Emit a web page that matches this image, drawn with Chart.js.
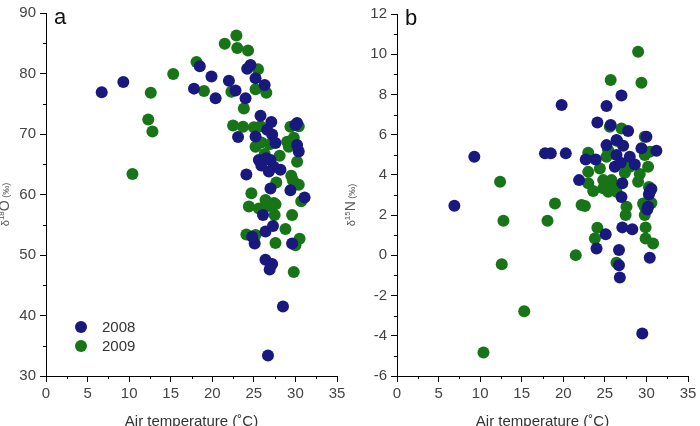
<!DOCTYPE html>
<html lang="en">
<head>
<meta charset="UTF-8">
<title>Air temperature vs isotopes</title>
<script src="https://cdn.jsdelivr.net/npm/chart.js"></script>
<style>
    html, body { margin: 0; padding: 0; background: #fff; overflow: hidden; width: 700px; height: 426px; }
    .panel { position: absolute; top: 0; height: 432px; }
    #panelA { left: 0; width: 350px; }
    #panelB { left: 340px; width: 360px; }
</style>
</head>
<body>
<div class="panel" id="panelA"><canvas id="chartA" width="350" height="432"></canvas></div>
<div class="panel" id="panelB"><canvas id="chartB" width="360" height="432"></canvas></div>

<script>
    const years = ['2008', '2009'];
    const colors = ['#18187e', '#177417'];

    // panel a: air temperature vs d18O
    const tempA2008 = [6.7, 9.3, 17.8, 18.5, 19.9, 20.4, 22.0, 22.8, 24.0, 24.2, 24.6, 25.2, 26.3,
        23.1, 25.2, 25.8, 27.1, 26.6, 27.2, 25.6, 27.0, 27.4, 28.2, 26.8, 24.1, 30.0, 30.4, 30.2,
        27.0, 29.4, 31.1, 26.1, 26.4, 27.3, 25.1, 24.8, 26.4, 27.2, 26.9, 29.6, 28.5, 26.7,
        26.5, 25.9, 27.6, 30.2];
    const o18A2008 = [76.9, 78.6, 77.5, 81.2, 79.5, 75.9, 78.8, 77.2, 75.9, 80.8, 81.4, 79.2, 78.1,
        69.5, 69.6, 73.0, 72.0, 70.7, 69.9, 65.7, 65.7, 64.6, 64.1, 63.8, 63.3, 71.5, 67.1, 68.2,
        61.0, 60.7, 59.5, 56.6, 53.9, 54.8, 51.9, 53.0, 49.2, 48.5, 47.6, 51.9, 41.5, 33.4,
        66.0, 64.8, 68.5, 71.8];
    const tempA2009 = [10.4, 12.3, 12.8, 12.6, 15.3, 18.1, 19.0, 21.5, 22.9, 23.0, 24.3, 22.3, 25.5,
        25.2, 26.5, 23.8, 22.5, 23.7, 25.0, 25.8, 25.2, 25.9, 26.9, 26.3, 28.1, 29.4, 30.4, 29.0,
        29.2, 29.8, 30.2, 29.5, 29.7, 30.4, 27.7, 24.7, 30.7, 25.6, 26.4, 27.4, 27.5, 29.6,
        24.1, 25.2, 27.6, 28.8, 30.5, 30.0, 29.8, 26.8, 24.4, 27.6];
    const o18A2009 = [63.4, 72.4, 70.4, 76.8, 79.9, 81.9, 77.1, 84.9, 86.3, 84.2, 83.8, 77.0, 80.7,
        77.4, 76.8, 74.2, 71.4, 71.2, 71.1, 71.3, 67.9, 68.6, 68.3, 66.7, 66.4, 71.2, 71.3, 68.7,
        67.9, 69.4, 65.4, 63.1, 62.3, 61.6, 62.0, 60.2, 58.9, 57.7, 59.1, 58.6, 56.6, 56.6,
        53.4, 53.3, 52.0, 54.3, 52.7, 51.6, 47.2, 58.1, 58.0, 58.4];

    // panel b: air temperature vs d15N
    const tempB2008 = [6.9, 9.3, 19.8, 17.8, 18.5, 20.3, 24.1, 25.2, 27.0, 25.7, 27.8, 30.0, 25.2,
        26.4, 27.2, 29.4, 31.2, 22.7, 23.9, 26.4, 28.0, 28.6, 26.2, 21.9, 27.1, 27.0, 30.3, 30.6,
        25.1, 24.0, 27.1, 28.3, 26.7, 26.7, 26.8, 30.4, 29.5, 30.1, 26.9, 30.2, 30.4];
    const n15B2008 = [2.46, 4.9, 7.47, 5.07, 5.07, 5.07, 6.6, 7.42, 7.95, 6.48, 6.18, 5.9, 5.48,
        5.73, 5.45, 5.32, 5.2, 4.77, 4.77, 4.99, 4.9, 4.52, 4.4, 3.74, 3.58, 2.9, 3.03, 3.3,
        1.05, 0.34, 1.39, 1.3, 0.26, -0.49, -1.1, -0.12, -3.89, 2.28, 4.6, 2.41, 3.16];
    const tempB2009 = [29.0, 29.4, 25.7, 25.6, 27.0, 26.5, 29.8, 23.0, 25.4, 25.2, 24.4, 23.0, 27.6,
        28.0, 27.4, 29.2, 29.0, 30.2, 29.8, 30.4, 23.0, 23.6, 24.8, 25.8, 24.8, 26.0, 25.4, 26.4,
        30.3, 12.4, 19.0, 22.2, 22.6, 27.6, 29.8, 30.6, 12.8, 12.6, 15.3, 10.4, 18.1, 21.5,
        24.1, 23.8, 26.4, 27.5, 29.8, 29.9, 29.9, 30.8, 29.6];
    const n15B2009 = [10.12, 8.58, 8.72, 6.39, 6.31, 5.68, 5.9, 5.1, 5.23, 4.9, 4.32, 4.15, 4.57,
        4.4, 4.1, 4.04, 3.66, 4.4, 4.99, 5.15, 3.58, 3.2, 3.74, 3.74, 3.33, 3.41, 3.16, 3.16,
        3.4, 3.66, 2.58, 2.5, 2.45, 2.41, 2.4, 2.6, 1.72, -0.44, -2.78, -4.83, 1.72, 0.01,
        1.37, 0.84, -0.37, 2.0, 2.0, 1.39, 0.84, 0.59, 2.58];

    const xTicks = [0, 5, 10, 15, 20, 25, 30, 35];
    const yTicksA = [30, 40, 50, 60, 70, 80, 90];
    const yTicksB = [-6, -4, -2, 0, 2, 4, 6, 8, 10, 12];

    // y titles in pieces: [text, font size, raised]
    const yTitleA = [['δ', 11, false], ['18', 8, true], ['O', 14, false], [' (‰)', 9, false]];
    const yTitleB = [['δ', 11, false], ['15', 8, true], ['N', 14, false], [' (‰)', 9, false]];

    const FONT = '"Liberation Sans", Arial, sans-serif';

    function points(xs, ys) {
        return xs.map((x, i) => ({ x: x, y: ys[i] }));
    }

    // minor ticks, y title, panel letter and the little legend
    const extras = {
        id: 'extras',
        afterDraw(chart, args, opts) {
            const ctx = chart.ctx;
            const xs = chart.scales.x, ys = chart.scales.y;
            const area = chart.chartArea;
            ctx.save();
            ctx.strokeStyle = '#000';
            ctx.lineWidth = 1;
            ctx.beginPath();
            for (let v = xs.min + opts.minorX; v < xs.max; v += opts.minorX * 2) {
                const px = Math.round(xs.getPixelForValue(v)) + 0.5;
                ctx.moveTo(px, area.bottom);
                ctx.lineTo(px, area.bottom + 3);
            }
            for (let v = ys.min + opts.minorY; v < ys.max; v += opts.minorY * 2) {
                const py = Math.round(ys.getPixelForValue(v)) + 0.5;
                ctx.moveTo(area.left, py);
                ctx.lineTo(area.left - 3, py);
            }
            ctx.stroke();

            // rotated y title
            let total = 0;
            opts.yTitle.forEach(p => {
                ctx.font = p[1] + 'px ' + FONT;
                total += ctx.measureText(p[0]).width;
            });
            ctx.save();
            ctx.translate(opts.titleX, (area.top + area.bottom) / 2 + 10);
            ctx.rotate(-Math.PI / 2);
            ctx.fillStyle = '#555';
            ctx.textBaseline = 'alphabetic';
            let cx = -total / 2;
            opts.yTitle.forEach(p => {
                ctx.font = p[1] + 'px ' + FONT;
                ctx.fillText(p[0], cx, p[2] ? 0 : 5);
                cx += ctx.measureText(p[0]).width;
            });
            ctx.restore();

            ctx.fillStyle = '#111';
            ctx.font = '22px ' + FONT;
            ctx.textBaseline = 'top';
            ctx.fillText(opts.letter, area.left + 8, area.top - 6);

            if (opts.legend) {
                ctx.font = '15px ' + FONT;
                ctx.textBaseline = 'middle';
                chart.data.datasets.forEach((ds, i) => {
                    const cy = area.bottom - 49 + i * 19;
                    ctx.fillStyle = ds.backgroundColor;
                    ctx.beginPath();
                    ctx.arc(area.left + 35, cy, 6, 0, Math.PI * 2);
                    ctx.fill();
                    ctx.fillStyle = '#333';
                    ctx.fillText(ds.label, area.left + 56, cy + 1);
                });
            }
            ctx.restore();
        }
    };

    function makeChart(id, sets, yTicks, yTitle, opts) {
        const yStep = yTicks[1] - yTicks[0];
        new Chart(document.getElementById(id), {
            type: 'scatter',
            data: {
                datasets: sets.map((s, i) => ({
                    label: years[i],
                    data: points(s[0], s[1]),
                    backgroundColor: colors[i],
                    borderWidth: 0,
                    pointRadius: 6,
                    pointHoverRadius: 6
                }))
            },
            options: {
                responsive: false,
                animation: false,
                devicePixelRatio: 1,
                layout: { padding: { top: opts.top, right: opts.right, left: 0, bottom: 0 } },
                plugins: {
                    legend: { display: false },
                    tooltip: { enabled: false },
                    extras: {
                        letter: opts.letter, legend: opts.legend, minorX: 2.5, minorY: yStep / 2,
                        yTitle: yTitle, titleX: opts.titleX
                    }
                },
                scales: {
                    x: {
                        type: 'linear',
                        min: xTicks[0],
                        max: xTicks[xTicks.length - 1],
                        afterBuildTicks: (s) => { s.ticks = xTicks.map(v => ({ value: v })); },
                        afterFit: (s) => { s.height = 56; },
                        border: { color: '#000', width: 1 },
                        grid: { drawOnChartArea: false, tickLength: 6, tickColor: '#000' },
                        ticks: { color: '#444', padding: 3, font: { size: 15, family: FONT } },
                        title: {
                            display: true,
                            text: 'Air temperature (˚C)',
                            color: '#333',
                            padding: { top: 0, bottom: 1 },
                            font: { size: 15, family: FONT }
                        }
                    },
                    y: {
                        type: 'linear',
                        min: yTicks[0],
                        max: yTicks[yTicks.length - 1],
                        afterBuildTicks: (s) => { s.ticks = yTicks.map(v => ({ value: v })); },
                        afterFit: (s) => { s.width = opts.left; },
                        border: { color: '#000', width: 1 },
                        grid: { drawOnChartArea: false, tickLength: 6, tickColor: '#000' },
                        ticks: { color: '#444', padding: 4, font: { size: 15, family: FONT } },
                        title: { display: false }
                    }
                }
            },
            plugins: [extras]
        });
    }

    makeChart('chartA', [[tempA2008, o18A2008], [tempA2009, o18A2009]], yTicksA, yTitleA,
        { letter: 'a', legend: true, top: 13, right: 13, left: 46, titleX: 4 });
    makeChart('chartB', [[tempB2008, n15B2008], [tempB2009, n15B2009]], yTicksB, yTitleB,
        { letter: 'b', legend: false, top: 14, right: 12, left: 57, titleX: 10 });
</script>
</body>
</html>
